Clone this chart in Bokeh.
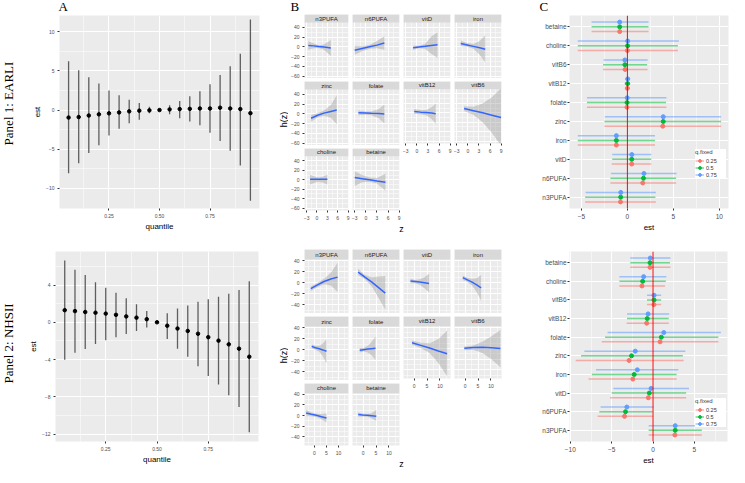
import numpy as np
from bokeh.plotting import figure
from bokeh.layouts import row, column
from bokeh.models import Range1d, FixedTicker, BoxAnnotation, Label, Span, Legend, LegendItem, NumeralTickFormatter
from bokeh.embed import file_html
from bokeh.resources import INLINE
from bokeh.core.properties import value

FONT = "Liberation Sans"
SERIF = "Liberation Serif"
BG = "#EBEBEB"

# ---------------- data: panel A (quantile effects) ----------------
quantiles = [0.05, 0.10, 0.15, 0.20, 0.25, 0.30, 0.35, 0.40, 0.45, 0.50,
             0.55, 0.60, 0.65, 0.70, 0.75, 0.80, 0.85, 0.90, 0.95]
earli_q_est = [-0.96, -0.90, -0.70, -0.55, -0.42, -0.30, -0.17, -0.08, -0.04, 0.00,
               0.08, 0.12, 0.15, 0.20, 0.20, 0.30, 0.20, 0.12, -0.40]
earli_q_lo = [-8.1, -6.8, -5.5, -4.5, -3.25, -2.4, -1.7, -1.25, -0.42, 0.0,
              -0.55, -1.05, -1.45, -1.95, -2.9, -3.95, -5.2, -7.1, -11.6]
earli_q_hi = [6.25, 5.1, 4.2, 3.4, 2.5, 1.9, 1.33, 0.9, 0.42, 0.0,
              0.62, 1.17, 1.75, 2.4, 3.3, 4.5, 5.6, 7.2, 11.6]
nhs_q_est = [1.30, 1.20, 1.10, 1.03, 0.93, 0.80, 0.63, 0.50, 0.33, 0.00,
             -0.37, -0.67, -0.93, -1.23, -1.60, -1.97, -2.37, -2.83, -3.70]
nhs_q_lo = [-4.03, -3.27, -2.87, -2.33, -1.93, -1.60, -1.27, -0.93, -0.57, 0.0,
            -1.80, -2.83, -3.70, -4.73, -5.77, -6.67, -7.83, -9.10, -11.80]
nhs_q_hi = [6.63, 5.63, 5.07, 4.30, 3.70, 3.17, 2.57, 1.93, 1.20, 0.0,
            0.97, 1.47, 1.80, 2.20, 2.47, 2.73, 3.07, 3.47, 4.40]

# ---------------- data: panel B (exposure-response h(z)) ----------------
facet_names = ["n3PUFA", "n6PUFA", "vitD", "iron", "zinc",
               "folate", "vitB12", "vitB6", "choline", "betaine"]
earli_z = [[-2.5, -1.0, 0.5, 2.0, 4.0], [-3.0, -1.0, 1.0, 3.0, 5.0], [-1.0, 0.6, 2.2, 3.9, 5.6],
           [-1.9, -0.2, 1.5, 3.2, 4.7], [-1.7, 0.2, 2.0, 4.0, 5.7], [-2.0, 0.0, 1.5, 3.5, 5.0],
           [-0.7, 1.0, 2.5, 4.0, 5.1], [-1.0, 1.5, 4.0, 6.5, 9.0], [-2.0, -0.7, 0.5, 1.8, 3.0],
           [-3.0, -1.0, 1.0, 3.0, 5.3]]
earli_h = [[3, 2, 0.5, -0.5, -2.5], [-7, -3.5, 0, 3.5, 8], [-2, -0.5, 1, 3, 4.5],
           [7, 4, 1, -2, -5], [-9, -3, 1.5, 5, 8], [2, 1.5, 1, 0.5, -0.5],
           [3, 1.5, 0.5, -0.5, -2], [9, 4.5, 0, -5, -10], [1, 1, 1, 1, 1],
           [5, 2.5, 0, -2.5, -5]]
earli_lo = [[-6, -3, -2.5, -6, -19], [-16, -9, -4, -3, -6], [-6, -3, -4, -14, -23],
            [1, 0, -4, -16, -32], [-16, -7, -4, -8, -21], [-3, -2, -3, -9, -20],
            [-2, -3, -5, -13, -23], [4, -4, -20, -42, -70], [-10, -6, -4, -6, -10],
            [-13, -5, -4, -8, -23]]
earli_hi = [[12, 7, 3.5, 5, 14], [2, 1, 4, 12, 22], [2, 2, 6, 21, 30],
            [13, 8, 6, 12, 24], [-2, 1, 7, 18, 38], [7, 5, 5, 10, 19],
            [8, 6, 6, 12, 20], [14, 13, 20, 33, 52], [11, 7, 5, 7, 11],
            [18, 10, 5, 4, 13]]
nhs_z = [[-1.5, 1.3, 4.0, 6.8, 9.6], [-1.9, 0.7, 3.4, 6.0, 8.6], [-1.4, 0.4, 2.2, 4.0, 5.8],
         [-0.9, 0.9, 2.7, 4.5, 6.2], [-1.1, 0.4, 2.0, 3.5, 5.0], [-1.3, 0.2, 1.8, 3.3, 4.8],
         [-0.8, 2.6, 6.0, 9.4, 12.8], [-0.3, 3.2, 6.7, 10.2, 13.7], [-3.4, -1.3, 0.8, 2.9, 5.0],
         [-1.9, -0.2, 1.6, 3.3, 5.1]]
nhs_h = [[-11, -4, 2, 6.5, 10], [19, 10, 1, -9, -19], [3, 2, 1, 0, -1.5],
         [9, 5, 1, -4, -9.5], [6, 3.5, 1.5, -0.5, -3], [-1, 0, 1, 1.8, 2.5],
         [11, 6, 1, -4.5, -9.5], [0.5, 2, 2.5, 1.5, 0], [5, 2.5, 0.5, -2, -4.5],
         [2, 1.2, 0.5, -0.3, -1.2]]
nhs_lo = [[-15, -8, -3, -5, -17], [14, 6, -7, -28, -49], [-1, -1, -4, -10, -18],
          [5, 1, -5, -17, -33], [2, 0, -4, -12, -25], [-5, -3, -5, -10, -19],
          [7, 1, -8, -27, -52], [-3, -2, -8, -20, -35], [-1, -1, -2.5, -7, -13],
          [-2, -1.5, -2, -5, -10]]
nhs_hi = [[-7, 0, 7, 18, 36], [25, 14, 10, 11, 12], [7, 5, 6, 10, 16],
          [13, 9, 7, 8, 14], [10, 7, 7, 11, 19], [3, 3, 7, 14, 24],
          [15, 11, 10, 18, 34], [4, 6, 13, 23, 35], [11, 6, 3.5, 3, 4],
          [6, 4, 3, 4.5, 11]]

# ---------------- data: panel C (single-exposure effects) ----------------
c_cats = ["n3PUFA", "n6PUFA", "vitD", "iron", "zinc", "folate", "vitB12", "vitB6", "choline", "betaine"]
q_fixed = ["0.25", "0.5", "0.75"]
q_colors = ["#F8766D", "#00BA38", "#619CFF"]
earli_c_est = [[-0.75, 1.67, 0.47, -1.2, 3.85, -0.05, 0.0, -0.25, 0.0, -0.84],
               [-0.73, 1.75, 0.47, -1.2, 3.9, -0.04, 0.02, -0.27, 0.02, -0.84],
               [-0.72, 1.80, 0.48, -1.2, 3.9, -0.02, 0.03, -0.28, 0.03, -0.84]]
earli_c_lo = [[-4.6, -1.85, -1.7, -5.4, -2.5, -4.4, -0.25, -2.65, -5.4, -3.9],
              [-4.6, -1.85, -1.65, -5.4, -2.5, -4.4, -0.3, -2.65, -5.4, -3.9],
              [-4.55, -1.8, -1.65, -5.4, -2.45, -4.4, -0.25, -2.6, -5.4, -3.9]]
earli_c_hi = [[3.1, 5.3, 2.6, 3.0, 10.2, 4.25, 0.25, 2.2, 5.5, 2.3],
              [3.05, 5.3, 2.6, 3.0, 10.2, 4.2, 0.3, 2.15, 5.5, 2.3],
              [3.1, 5.35, 2.6, 3.0, 10.2, 4.25, 0.3, 2.2, 5.6, 2.3]]
nhs_c_est = [[2.64, -3.45, -0.57, -2.44, -2.9, 0.85, -0.77, 0.10, -1.34, -0.37],
             [2.68, -3.33, -0.45, -2.28, -2.6, 1.0, -0.70, 0.12, -1.26, -0.37],
             [2.68, -3.17, -0.24, -1.90, -2.15, 1.3, -0.60, 0.12, -1.14, -0.33]]
nhs_c_lo = [[-0.53, -6.7, -5.2, -7.8, -9.35, -6.2, -3.2, -0.73, -4.07, -2.76],
            [-0.53, -6.5, -5.0, -7.4, -8.7, -5.8, -3.15, -0.73, -4.07, -2.76],
            [-0.53, -6.34, -4.8, -6.9, -8.3, -5.5, -3.15, -0.73, -4.07, -2.76]]
nhs_c_hi = [[5.9, 0.0, 4.0, 2.85, 3.7, 7.9, 1.9, 0.98, 1.45, 2.1],
            [5.9, -0.04, 4.0, 2.85, 3.6, 7.9, 1.9, 0.98, 1.55, 2.05],
            [5.9, 0.08, 4.35, 3.05, 3.9, 8.2, 1.95, 0.98, 1.6, 2.1]]


# ---------------- helpers ----------------
def make_fig(w, h, xr, yr, bl, br, bt, bb, xloc="below", yloc="left"):
    p = figure(width=w, height=h, x_range=Range1d(*xr), y_range=Range1d(*yr),
               output_backend="svg", toolbar_location=None,
               x_axis_location=xloc, y_axis_location=yloc,
               min_border_left=bl, min_border_right=br,
               min_border_top=bt, min_border_bottom=bb)
    p.background_fill_color = BG
    p.border_fill_color = "white"
    p.outline_line_color = None
    for g in (p.xgrid, p.ygrid):
        g.grid_line_color = "white"
        g.grid_line_width = 1
        g.minor_grid_line_color = "white"
        g.minor_grid_line_width = 0.5
    return p


def style_axis(ax, size="5px", lab_size="8px"):
    ax.axis_line_color = None
    ax.major_tick_line_color = "#333333"
    ax.major_tick_out = 2
    ax.major_tick_in = 0
    ax.minor_tick_line_color = None
    ax.major_label_text_font_size = size
    ax.major_label_text_color = "#4D4D4D"
    ax.major_label_text_font = FONT
    ax.major_label_standoff = 1
    ax.axis_label_text_font = FONT
    ax.axis_label_text_font_size = lab_size
    ax.axis_label_text_font_style = "normal"
    ax.axis_label_text_color = "black"
    ax.axis_label_standoff = 1


def set_ticks(p, xt, xm, yt, ym):
    tx = FixedTicker(ticks=xt, minor_ticks=xm)
    ty = FixedTicker(ticks=yt, minor_ticks=ym)
    p.xgrid.ticker = tx
    p.ygrid.ticker = ty
    for a in p.xaxis:
        a.ticker = tx
        style_axis(a)
    for a in p.yaxis:
        a.ticker = ty
        style_axis(a)


def deco(w, h):
    p = figure(width=w, height=h, x_range=Range1d(0, w), y_range=Range1d(0, h),
               output_backend="svg", toolbar_location=None, min_border=0,
               x_axis_location=None, y_axis_location=None)
    p.xgrid.visible = False
    p.ygrid.visible = False
    p.outline_line_color = None
    p.background_fill_color = "white"
    p.border_fill_color = "white"
    return p


def panel_A(est, lo, hi, yr, yt, ym, w, h, bl, br, bt, bb):
    p = make_fig(w, h, (0.005, 0.995), yr, bl, br, bt, bb)
    set_ticks(p, [0.25, 0.5, 0.75], [0.125, 0.375, 0.625, 0.875], yt, ym)
    p.xaxis.formatter = NumeralTickFormatter(format="0.00")
    p.xaxis.axis_label = "quantile"
    p.yaxis.axis_label = "est"
    p.segment(x0=quantiles, y0=lo, x1=quantiles, y1=hi, line_color="#5E5E5E", line_width=1.3)
    p.scatter(x=quantiles, y=est, size=3.5, fill_color="black", line_color="black")
    return p


def facet(name, z, est, lo, hi, xr, ypanel, strip_px, frame_h, w, h, bl, br, bt, bb,
          show_x, show_y, xt, xm, yt, ym):
    ymin, ymax = ypanel
    ytop = ymax + strip_px * (ymax - ymin) / (frame_h - strip_px)
    p = make_fig(w, h, xr, (ymin, ytop), bl, br, bt, bb,
                 xloc="below" if show_x else None, yloc="left" if show_y else None)
    set_ticks(p, xt, xm, yt, ym)
    p.varea(x=z, y1=lo, y2=hi, fill_color="#999999", fill_alpha=0.4)
    p.line(x=z, y=est, line_color="#3366FF", line_width=1.5)
    p.add_layout(BoxAnnotation(bottom=ymax, top=ytop, left=xr[0], right=xr[1],
                               fill_color="#D9D9D9", fill_alpha=1, line_color=None))
    p.add_layout(Label(x=(xr[0] + xr[1]) / 2, y=(ymax + ytop) / 2, text=name,
                       text_align="center", text_baseline="middle", text_font_size="6px",
                       text_color="#1A1A1A", text_font=FONT))
    return p


def panel_B(zs, hs, los, his, xr, ypanel, strip_px, xt, xm, yt, ym, first_bt, zfig_h):
    frame_h = 64
    cols = []
    widths = [(13, 2), (2, 2), (2, 2), (2, 3)]
    for c in range(4):
        idxs = [i for i in (c, c + 4, c + 8) if i < len(facet_names)]
        figs = []
        for r, i in enumerate(idxs):
            last = (r == len(idxs) - 1)
            bl, br = widths[c]
            bt = first_bt if r == 0 else 3
            bb = 10 if last else 0
            figs.append(facet(facet_names[i], zs[i], hs[i], los[i], his[i], xr, ypanel, strip_px,
                              frame_h, bl + 47 + br, bt + frame_h + bb, bl, br, bt, bb,
                              last, c == 0, xt, xm, yt, ym))
        cols.append(column(*figs))
    grid = row(*cols)
    zf = deco(216, zfig_h)
    zf.text(x=[113], y=[zfig_h / 2 + 1], text=["z"], text_align="center", text_baseline="middle",
            text_font=value(FONT), text_font_size=value("9px"), text_color="black")
    return column(grid, zf)


def panel_C(ests, los, his, xr, xt, xm, w, h, bl, br, bt, bb, leg_loc):
    p = make_fig(w, h, xr, (0.4, 10.6), bl, br, bt, bb)
    ypos = [i + 1 for i in range(len(c_cats))]
    set_ticks(p, xt, xm, ypos, [])
    p.ygrid.minor_grid_line_color = None
    p.yaxis.major_label_overrides = {i + 1: c for i, c in enumerate(c_cats)}
    p.yaxis.major_label_text_font_size = "6.5px"
    p.xaxis.major_label_text_font_size = "6.5px"
    p.xaxis.axis_label = "est"
    p.add_layout(Span(location=0, dimension="height", line_color="#FF0000", line_width=1))
    items = []
    offsets = [-0.25, 0.0, 0.25]
    for k in range(3):
        yy = [y + offsets[k] for y in ypos]
        seg = p.segment(x0=los[k], y0=yy, x1=his[k], y1=yy, line_color=q_colors[k],
                        line_alpha=0.55, line_width=1.5)
        pts = p.scatter(x=ests[k], y=yy, size=4, fill_color=q_colors[k], line_color=q_colors[k])
        items.append(LegendItem(label=q_fixed[k], renderers=[seg, pts]))
    leg = Legend(items=items, title="q.fixed", location=leg_loc)
    leg.title_text_font = FONT
    leg.title_text_font_size = "6px"
    leg.title_text_font_style = "normal"
    leg.title_standoff = 2
    leg.label_text_font = FONT
    leg.label_text_font_size = "5.5px"
    leg.label_text_color = "#333333"
    leg.glyph_width = 9
    leg.glyph_height = 7
    leg.label_height = 7
    leg.label_standoff = 2
    leg.spacing = 0
    leg.padding = 3
    leg.margin = 0
    leg.border_line_color = None
    leg.background_fill_color = "white"
    leg.background_fill_alpha = 1
    p.add_layout(leg)
    return p


def hz_fig(h, yc):
    f = deco(24, h)
    f.text(x=[19], y=[yc], text=["h(z)"], angle=np.pi / 2, text_align="center",
           text_baseline="middle", text_font=value(FONT), text_font_size=value("9px"),
           text_color="black")
    return f


# ---------------- row 1: EARLI ----------------
A1 = panel_A(earli_q_est, earli_q_lo, earli_q_hi, (-12.6, 12.1), [-10, -5, 0, 5, 10],
             [-7.5, -2.5, 2.5, 7.5], 240, 222, 35, 5, 1, 28)
B1 = panel_B(earli_z, earli_h, earli_lo, earli_hi, (-3.6, 9.1), (-65, 50), 8,
             [-3, 0, 3, 6, 9], [-1.5, 1.5, 4.5, 7.5], [-60, -40, -20, 0, 20, 40],
             [-50, -30, -10, 10, 30], 0, 14)
C1 = panel_C(earli_c_est, earli_c_lo, earli_c_hi, (-6.3, 11.0), [-5, 0, 5, 10],
             [-2.5, 2.5, 7.5], 225, 222, 65, 1, 1, 21, (126, 30))
row1 = row(A1, row(hz_fig(222, 117), B1), C1)

# ---------------- row 2: NHSII ----------------
A2 = panel_A(nhs_q_est, nhs_q_lo, nhs_q_hi, (-12.8, 7.6), [-12, -8, -4, 0, 4],
             [-10, -6, -2, 2, 6], 240, 231, 31, 6, 13, 21)
B2 = panel_B(nhs_z, nhs_h, nhs_lo, nhs_hi, (-4.1, 14.1), (-56, 42), 10,
             [0, 5, 10], [-2.5, 2.5, 7.5, 12.5], [-40, -20, 0, 20, 40],
             [-50, -30, -10, 10, 30], 13, 10)
C2 = panel_C(nhs_c_est, nhs_c_lo, nhs_c_hi, (-10.1, 9.0), [-10, -5, 0, 5],
             [-7.5, -2.5, 2.5, 7.5], 225, 231, 65, 2, 15, 21, (126, 14))
row2 = row(A2, row(hz_fig(231, 112), B2), C2)

# ---------------- header letters and side labels ----------------
header = deco(705, 14)
header.text(x=[34, 266, 515], y=[1, 1, 1], text=["A", "B", "C"], text_align="left",
            text_baseline="bottom", text_font=value(SERIF), text_font_size=value("13px"),
            text_color="black")

side = deco(24, 467)
side.text(x=[8, 8], y=[364, 124], text=["Panel 1: EARLI", "Panel 2: NHSII"], angle=np.pi / 2,
          text_align="center", text_baseline="middle", text_font=value(SERIF),
          text_font_size=value("13px"), text_color="black")

layout = row(side, column(header, row1, row2))

open("out.html", "w").write(file_html(layout, INLINE))
